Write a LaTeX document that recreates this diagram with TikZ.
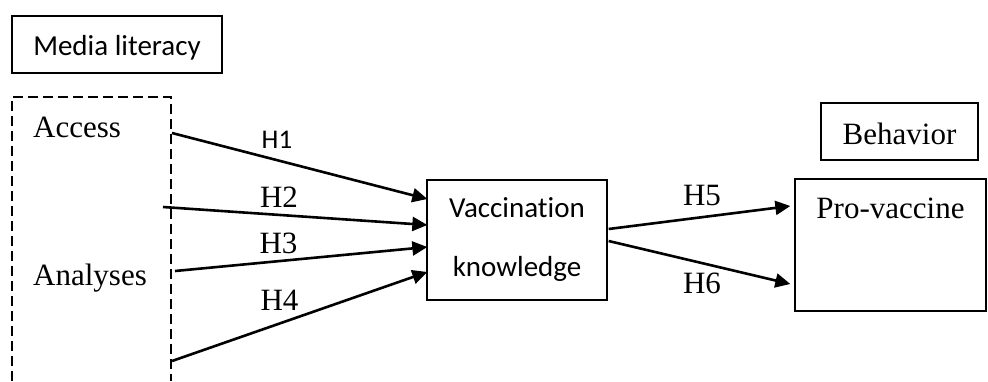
\documentclass[tikz,border=0pt]{standalone}
\usepackage{fontspec}
\setmainfont{Liberation Serif}
\newfontfamily\calibrifont[Ligatures=NoCommon]{Carlito}
\usetikzlibrary{arrows.meta}

\begin{document}
\begin{tikzpicture}[x=1pt, y=-1pt,
        box/.style = {draw, line width=1.3pt, inner sep=0pt},
        sans/.style = {font=\calibrifont\fontsize{29}{59}\selectfont},
        serif/.style = {font=\fontsize{31}{37}\selectfont},
        hypo/.style = {line width=2.6pt, -{Triangle[length=15pt, width=14pt]}}]
        \useasboundingbox (0,0) rectangle (988,381);
        \node[box, sans, minimum width=210pt, text height=39pt, text depth=18pt] (ml) at (117,44.5) {Media literacy};
        \draw [line width=2.5pt, dash pattern=on 10pt off 5pt] (12,381) -- (12,97) -- (171,97) -- (171,381);
        \node[serif, anchor=base west, inner sep=0pt] (acc) at (33,137) {Access};
        \node[serif, anchor=base west, inner sep=0pt] (ana) at (33,285) {Analyses};
        \node[box, sans, align=center, minimum width=180pt, minimum height=120pt] (vk) at (517,240) {Vaccination\\knowledge};
        \node[box, serif, minimum width=157pt, text height=41pt, text depth=16pt] (beh) at (899.5,131.5) {Behavior};
        \node[box, serif, minimum width=191pt, text height=39pt, text depth=93pt] (pro) at (890.5,245) {Pro-vaccine};
        \coordinate (s1) at (172,133);
        \coordinate (s2) at (163,207);
        \coordinate (s3) at (175,271);
        \coordinate (s4) at (172,361);
        \draw [hypo] (s1) -- ([xshift=1pt, yshift=41pt]vk.west);
        \draw [hypo] (s2) -- ([xshift=1pt, yshift=15pt]vk.west);
        \draw [hypo] (s3) -- ([xshift=1pt, yshift=-7pt]vk.west);
        \draw [hypo] (s4) -- ([xshift=1pt, yshift=-32pt]vk.west);
        \draw [hypo] ([xshift=1pt, yshift=11pt]vk.east) -- ([xshift=-4pt, yshift=39pt]pro.west);
        \draw [hypo] ([xshift=1pt, yshift=-1pt]vk.east) -- ([xshift=-4pt, yshift=-39pt]pro.west);
        \node[font=\calibrifont\fontsize{27}{32}\selectfont, anchor=base, inner sep=0pt] (h1) at (277,148) {H1};
        \node[serif, anchor=base, inner sep=0pt] (h2) at (279,207) {H2};
        \node[serif, anchor=base, inner sep=0pt] (h3) at (278.5,253) {H3};
        \node[serif, anchor=base, inner sep=0pt] (h4) at (279.5,310) {H4};
        \node[serif, anchor=base, inner sep=0pt] (h5) at (702,205) {H5};
        \node[serif, anchor=base, inner sep=0pt] (h6) at (702,293) {H6};
    \end{tikzpicture}
\end{document}
